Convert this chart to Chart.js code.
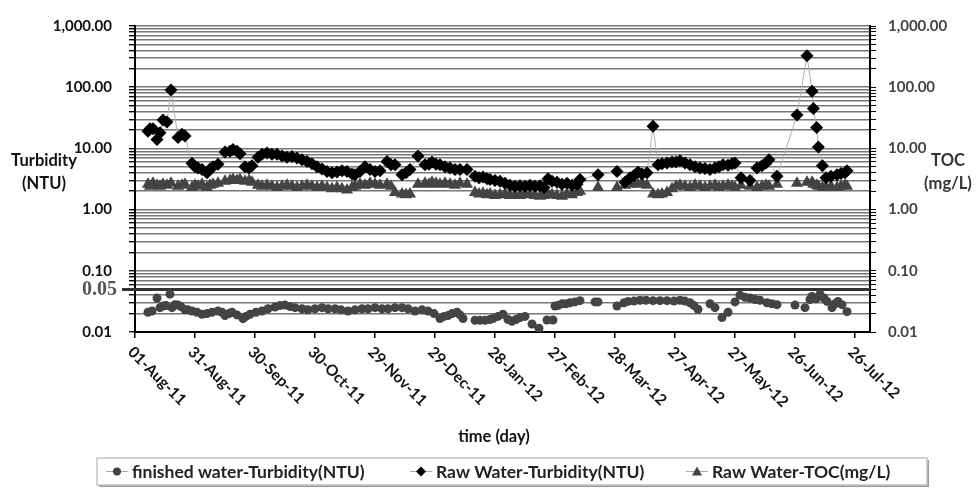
<!DOCTYPE html>
<html>
<head>
<meta charset="utf-8">
<script src="https://cdn.jsdelivr.net/npm/chart.js@4/dist/chart.umd.min.js"></script>
<style>
  html, body { margin: 0; padding: 0; background: #fff; }
  #wrap { width: 979px; height: 488px; position: relative; }
</style>
</head>
<body>
<div id="wrap"><canvas id="chart"></canvas></div>
<script>
// x values are days counted from 01-Aug-11
const xTickLabels = ['01-Aug-11', '31-Aug-11', '30-Sep-11', '30-Oct-11', '29-Nov-11', '29-Dec-11',
    '28-Jan-12', '27-Feb-12', '28-Mar-12', '27-Apr-12', '27-May-12', '26-Jun-12', '26-Jul-12'];
const yLabelValues = [0.01, 0.1, 1, 10, 100, 1000];
const yLabelTexts = ['0.01', '0.10', '1.00', '10.00', '100.00', '1,000.00'];

// raw water sampling days, turbidity and TOC
const rawDays = [
    6.5, 7.5, 9, 11, 12.5, 14, 16, 18, 21.5, 23.5, 25, 28.5, 30, 31.5, 33.5, 36, 37.5, 39, 41.5,
    45, 47.5, 49, 51, 52.5, 55, 57, 58.5,
    61.5, 63.5, 66, 68.5, 71, 73.5, 76, 78.5, 81, 83.5, 86, 88.5, 91, 93.5, 96, 98.5, 101, 103.5, 106, 108.5, 110,
    112.5, 115, 117.5, 120, 122.5, 126, 128,
    130, 133.5, 135.5, 137.5,
    141.5, 145, 147, 148.5, 150.5, 152.5, 155, 157.5, 160, 162.5, 166,
    170, 172, 174, 176, 177.5, 180, 182.5, 185, 187.5, 190, 192.5, 195, 197.5, 200, 202.5, 204.5, 206.5, 208.5, 211, 213.5, 216, 218.5, 221, 222.5,
    231.5, 241,
    245, 247.5, 249.5, 251.5, 253.5, 256,
    259, 261.5, 263.5, 266,
    268.5, 270.5, 272.5, 275, 277.5, 280, 282.5, 285, 287.5, 290, 292, 294, 296.5, 298.5, 300,
    303, 307.5, 311, 313.5, 315.5, 317, 321,
    331, 336,
    338.5, 339.2, 340.8, 341.7, 343.7, 345.5, 348, 351, 353, 355, 356
];
const rawTurbidity = [
    19, 21, 21, 14, 18, 29, 27, 90, 15, 17, 16, 5.7, 5.0, 4.8, 4.5, 4.0, 4.6, 5.0, 5.5,
    8.7, 9.0, 9.6, 9.0, 8.2, 5.0, 4.8, 5.2,
    7.2, 8.0, 8.4, 8.0, 8.0, 7.5, 7.2, 7.4, 7.0, 6.5, 6.1, 5.6, 5.0, 4.6, 4.2, 4.0, 4.1, 4.3, 4.2, 3.8, 3.7,
    4.2, 5.0, 4.5, 4.2, 4.3, 6.1, 5.4,
    5.4, 3.7, 4.0, 4.5,
    7.5, 5.4, 5.5, 6.0, 5.5, 5.4, 5.0, 4.8, 4.5, 4.5, 4.5,
    3.5, 3.3, 3.4, 3.2, 3.1, 3.0, 2.9, 2.7, 2.5, 2.4, 2.45, 2.4, 2.5, 2.4, 2.45, 2.3, 3.2, 2.9, 2.8, 2.6, 2.7, 2.5, 2.6, 3.1,
    3.7, 4.2,
    2.8, 3.3, 3.6, 4.1, 3.8, 4.0,
    23, 5.4, 5.6, 5.8,
    6.0, 6.0, 6.3, 5.8, 5.4, 5.0, 4.8, 4.7, 4.5, 4.8, 5.0, 5.4, 5.3, 5.6, 5.8,
    3.3, 3.0, 4.8, 5.2, 5.8, 6.5, 3.5,
    35, 326,
    86, 45, 22, 10.5, 5.2, 3.3, 3.5, 3.7, 3.9, 4.0, 4.3
];
const rawToc = [
    2.6, 2.4, 2.7, 2.5, 2.4, 2.6, 2.5, 2.7, 2.4, 2.5, 2.6, 2.3, 2.5, 2.4, 2.6, 2.3, 2.5, 2.6, 2.7,
    2.9, 3.0, 3.1, 3.0, 3.1, 2.9, 3.0, 2.8,
    2.5, 2.4, 2.5, 2.4, 2.3, 2.4, 2.5, 2.4, 2.3, 2.4, 2.5, 2.4, 2.3, 2.4, 2.3, 2.2, 2.3, 2.2, 2.1, 2.3, 2.4,
    2.6, 2.5, 2.7, 2.6, 2.5, 2.6, 2.4,
    1.9, 1.8, 1.75, 1.8,
    2.6, 2.7, 2.6, 2.8, 2.7, 2.6, 2.7, 2.6, 2.5, 2.7, 2.6,
    1.9, 1.8, 1.85, 1.75, 1.8, 1.7, 1.75, 1.8, 1.7, 1.75, 1.7, 1.8, 1.75, 1.7, 1.65, 1.7, 1.8, 1.75, 1.7, 1.65, 1.8, 1.75, 1.9, 2.0,
    2.3, 2.3,
    2.5, 2.6, 2.7, 2.6, 2.7, 2.5,
    1.8, 1.75, 1.8, 1.9,
    2.2, 2.4, 2.5, 2.4, 2.3, 2.5, 2.4, 2.3, 2.4, 2.5, 2.3, 2.4, 2.5, 2.4, 2.3,
    2.5, 2.4, 2.3, 2.4, 2.5, 2.4, 2.6,
    2.7, 2.8,
    2.8, 2.6, 2.5, 2.4, 2.3, 2.3, 2.4, 2.3, 2.4, 2.5, 2.4
];

// finished water sampling days and turbidity
const finDays = [
    6.5, 8.5, 11, 12.5, 14, 15.5, 17.5, 18.5, 20, 21.5, 23, 25, 26.5, 28.5, 31, 33.5, 36, 38.5, 41.5, 43.5,
    45, 47, 48.5, 51, 54, 55.5, 57.5, 60.5, 63.5, 66.5, 70, 72.5, 75, 77.5, 80, 83.5, 86.5, 90, 93.5, 96.5,
    100, 103, 106.5, 110, 113.5, 116.5, 120, 123.5, 126.5, 130, 133.5, 136.5, 140, 143.5, 146.5, 149.5,
    152.5, 154.5, 156.5, 158.5, 161, 162.5, 164, 170, 172.5, 175, 177.5, 179, 181.5, 184, 186.5, 188.5,
    190.5, 192.5, 195, 198.5, 202, 206, 209, 210, 211.5, 213.5, 215.5, 217.5, 220, 222.5, 230, 231.5,
    241, 244.5, 246.5, 249.5, 252.5, 255.5, 259, 262.5, 266, 269.5, 272.5, 275, 277.5, 279.5, 281.5,
    287.5, 290, 293.5, 296.5, 300, 302.5, 305, 307.5, 310, 312.5, 316, 318.5, 321, 330, 335, 337.5,
    338.5, 340.5, 342.5, 344.5, 346, 348.5, 350, 351.5, 353.5, 356
];
const finTurbidity = [
    0.021, 0.022, 0.036, 0.025, 0.0266, 0.027, 0.0415, 0.025, 0.028, 0.0275, 0.026, 0.023, 0.023, 0.022, 0.021, 0.0195, 0.02, 0.021, 0.022, 0.021,
    0.0186, 0.02, 0.021, 0.019, 0.0165, 0.018, 0.0195, 0.021, 0.022, 0.024, 0.0256, 0.027, 0.0275, 0.026, 0.025, 0.024, 0.023, 0.024, 0.025, 0.024,
    0.024, 0.023, 0.022, 0.023, 0.024, 0.024, 0.025, 0.024, 0.024, 0.025, 0.025, 0.024, 0.022, 0.023, 0.022, 0.02,
    0.0166, 0.018, 0.0186, 0.02, 0.021, 0.019, 0.0166, 0.0155, 0.0155, 0.0155, 0.016, 0.0166, 0.018, 0.0195, 0.016, 0.015,
    0.016, 0.0172, 0.018, 0.0135, 0.0115, 0.0157, 0.0157, 0.0266, 0.027, 0.029, 0.029, 0.030, 0.031, 0.0325, 0.031, 0.031,
    0.0266, 0.030, 0.0316, 0.032, 0.033, 0.033, 0.0325, 0.0325, 0.0325, 0.032, 0.033, 0.032, 0.030, 0.027, 0.0235,
    0.029, 0.025, 0.0172, 0.021, 0.031, 0.040, 0.037, 0.036, 0.034, 0.033, 0.030, 0.029, 0.028, 0.0275, 0.025, 0.034,
    0.038, 0.035, 0.041, 0.036, 0.0316, 0.025, 0.029, 0.0316, 0.028, 0.0215
];

const referenceLevel = 0.05;
const FONT = 'Lato, "Open Sans", sans-serif';

const pairs = (xs, ys) => xs.map((x, i) => ({ x: x, y: ys[i] }));

const labelFor = (v) => {
    const i = yLabelValues.findIndex(d => Math.abs(v - d) / d < 1e-6);
    return i >= 0 ? yLabelTexts[i] : '';
};

// every 1..9 multiple in each decade, for the grid
const logTicks = () => {
    const out = [];
    for (let i = 0; i < yLabelValues.length - 1; i++) {
        for (let m = 1; m <= 9; m++) out.push({ value: +(yLabelValues[i] * m).toPrecision(6) });
    }
    out.push({ value: yLabelValues[yLabelValues.length - 1] });
    return out;
};

const overlay = {
    id: 'overlay',
    beforeDatasetsDraw(chart) {
        const { ctx, chartArea, scales } = chart;
        const y = Math.round(scales.y.getPixelForValue(referenceLevel)) + 0.5;
        ctx.save();
        ctx.strokeStyle = '#333';
        ctx.lineWidth = 3;
        ctx.beginPath();
        ctx.moveTo(chartArea.left - 13, y);
        ctx.lineTo(chartArea.right, y);
        ctx.stroke();
        ctx.fillStyle = '#555';
        ctx.font = 'bold 20px "Liberation Serif", serif';
        ctx.textAlign = 'right';
        ctx.textBaseline = 'middle';
        ctx.fillText('0.05', 117, y);
        ctx.restore();
    },
    afterDraw(chart) {
        const { ctx, chartArea, scales } = chart;
        ctx.save();
        ctx.fillStyle = '#111';

        // rotated date labels
        ctx.font = 'bold 15.5px ' + FONT;
        ctx.textAlign = 'left';
        ctx.textBaseline = 'top';
        scales.x.ticks.forEach(t => {
            const px = scales.x.getPixelForValue(t.value);
            ctx.save();
            ctx.translate(px + 1, chartArea.bottom + 12);
            ctx.rotate(Math.PI / 4);
            ctx.fillText(xTickLabels[Math.round(t.value / 30)], 0, 0);
            ctx.restore();
        });

        // axis titles
        ctx.font = 'bold 16.5px ' + FONT;
        ctx.textAlign = 'center';
        ctx.textBaseline = 'middle';
        ctx.fillText('time (day)', 494, 437);
        ctx.fillText('Turbidity', 44, 161);
        ctx.fillText('(NTU)', 44, 184);
        ctx.fillStyle = '#333';
        ctx.fillText('TOC', 948, 161);
        ctx.fillText('(mg/L)', 948, 184);

        // legend box
        const bx = 97, by = 458, bw = 830, bh = 27;
        ctx.fillStyle = '#9a9a9a';
        ctx.fillRect(bx + 2, by + 2, bw, bh);
        ctx.fillStyle = '#fff';
        ctx.fillRect(bx, by, bw, bh);
        ctx.strokeStyle = '#c4c4c4';
        ctx.lineWidth = 1.5;
        ctx.strokeRect(bx, by, bw, bh);

        const ly = by + bh / 2;
        const entries = chart.data.datasets;
        const pos = [117, 421, 697];
        ctx.font = 'bold 17.5px ' + FONT;
        ctx.textAlign = 'left';
        entries.forEach((ds, i) => {
            const cx = pos[i];
            ctx.strokeStyle = '#aaa';
            ctx.lineWidth = 1;
            ctx.beginPath();
            ctx.moveTo(cx - 11, ly);
            ctx.lineTo(cx + 11, ly);
            ctx.stroke();
            ctx.fillStyle = ds.pointBackgroundColor;
            ctx.beginPath();
            if (ds.pointStyle === 'circle') {
                ctx.arc(cx, ly, 4, 0, Math.PI * 2);
            } else if (ds.pointStyle === 'rectRot') {
                ctx.moveTo(cx, ly - 5); ctx.lineTo(cx + 5, ly); ctx.lineTo(cx, ly + 5); ctx.lineTo(cx - 5, ly);
            } else {
                ctx.moveTo(cx, ly - 5); ctx.lineTo(cx + 5, ly + 4); ctx.lineTo(cx - 5, ly + 4);
            }
            ctx.closePath();
            ctx.fill();
            ctx.fillStyle = '#222';
            ctx.fillText(ds.label, cx + 15, ly + 1);
        });
        ctx.restore();
    }
};

new Chart(document.getElementById('chart'), {
    type: 'scatter',
    data: {
        datasets: [{
            label: 'finished water-Turbidity(NTU)',
            data: pairs(finDays, finTurbidity),
            pointStyle: 'circle',
            pointRadius: 4.5,
            pointBackgroundColor: '#444',
            pointBorderWidth: 0,
            showLine: false,
            order: 3
        }, {
            label: 'Raw Water-Turbidity(NTU)',
            data: pairs(rawDays, rawTurbidity),
            pointStyle: 'rectRot',
            pointRadius: 6.5,
            pointBackgroundColor: '#000',
            pointBorderWidth: 0,
            showLine: true,
            borderColor: '#b0b0b0',
            borderWidth: 1,
            order: 1
        }, {
            label: 'Raw Water-TOC(mg/L)',
            data: pairs(rawDays, rawToc),
            yAxisID: 'y2',
            pointStyle: 'triangle',
            pointRadius: 7,
            pointBackgroundColor: '#444',
            pointBorderWidth: 0,
            showLine: false,
            order: 2
        }]
    },
    options: {
        responsive: true,
        maintainAspectRatio: false,
        animation: false,
        layout: { padding: { top: 14, left: 0, right: 0, bottom: 0 } },
        plugins: {
            legend: { display: false },
            tooltip: { enabled: false }
        },
        scales: {
            x: {
                type: 'linear',
                min: 0,
                max: 367.5,
                afterBuildTicks: s => { s.ticks = xTickLabels.map((_, i) => ({ value: i * 30 })); },
                afterFit: s => { s.height = 156; },
                ticks: { display: false },
                grid: { drawOnChartArea: false, drawTicks: true, tickLength: 6, color: '#000', lineWidth: 1.5 },
                border: { display: true, color: '#000', width: 2 }
            },
            y: {
                type: 'logarithmic',
                position: 'left',
                min: 0.01,
                max: 1000,
                afterBuildTicks: s => { s.ticks = logTicks(); },
                afterFit: s => { s.width = 135; },
                ticks: {
                    autoSkip: false,
                    padding: 17,
                    color: '#111',
                    font: { family: FONT, size: 15, weight: 'bold' },
                    callback: v => labelFor(v)
                },
                grid: { color: '#777', lineWidth: 1.4, tickLength: 6, tickColor: '#000' },
                border: { display: true, color: '#000', width: 2 }
            },
            y2: {
                type: 'logarithmic',
                position: 'right',
                min: 0.01,
                max: 1000,
                afterBuildTicks: s => { s.ticks = logTicks(); },
                afterFit: s => { s.width = 109; },
                ticks: {
                    autoSkip: false,
                    padding: 12,
                    color: '#444',
                    font: { family: FONT, size: 15, weight: 'bold' },
                    callback: v => labelFor(v)
                },
                grid: { drawOnChartArea: false, tickLength: 6, color: '#000' },
                border: { display: true, color: '#000', width: 2 }
            }
        }
    },
    plugins: [overlay]
});
</script>
</body>
</html>
